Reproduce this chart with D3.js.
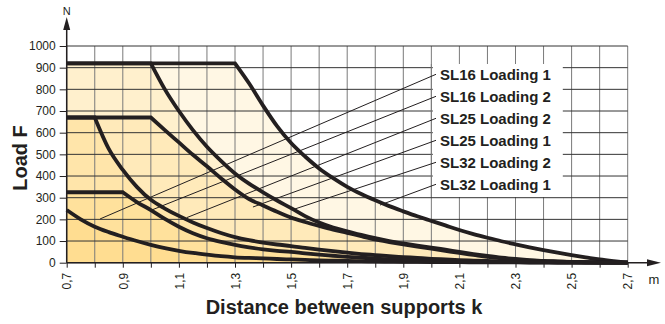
<!DOCTYPE html>
<html>
<head>
<meta charset="utf-8">
<script src="https://cdn.jsdelivr.net/npm/d3@7/dist/d3.min.js"></script>
<style>
  html, body { margin: 0; padding: 0; background: #ffffff; }
  svg { display: block; font-family: "Liberation Sans", Arial, Helvetica, sans-serif; }
</style>
</head>
<body>
<svg id="chart" width="665" height="324"></svg>
<script>
// ---------------- DATA ----------------
// distance between supports k (m), sampled every 0.05 m
const kValues = d3.range(70, 271, 5).map(v => v / 100);

// load F (N) per curve
const sl32Loading1 = [920,920,920,920,920,920,920,920,920,920,920,920,920,
  828,725,630,552,490,435,390,350,317,288,261,237,214,193,172,151,132,115,99,85,71,58,46,35,25,15,7,0];
const sl32Loading2 = [920,920,920,920,920,920,920,
  800,700,612,535,470,412,365,325,287,252,215,185,162,145,128,113,100,89,79,70,60,50,40,31,23,17,12,8,6,4,3,2,1,0];
const sl25Loading1 = [670,670,670,670,670,670,670,
  612,555,498,445,390,338,294,264,235,208,188,170,153,138,122,107,95,84,74,65,55,45,36,27,20,14,10,7,5,3,2,1,0.5,0];
const sl25Loading2 = [670,670,670,
  525,428,350,290,250,216,186,160,137,118,104,93,84,77,68,60,53,46,40,35,30,26,22,18,15,12,10,8,6,5,4,3,2,1.5,1,0.5,0.2,0];
const sl16Loading2 = [325,325,325,325,325,
  280,243,202,166,136,113,96,82,71,62,55,50,43,37,32,27,23,19,16,13,11,9,7,6,5,4,3,2.5,2,1.5,1,1,0.5,0.3,0.1,0];
const sl16Loading1 = [243,200,166,141,120,100,82,67,55,45,37,30,25,22,20,17,15,13,11,9.5,8,7,6,5,4,3.5,3,
  2.5,2.2,2,1.7,1.5,1.2,1,0.8,0.6,0.5,0.3,0.2,0.1,0];

// legend labels and the point each leader line points to
const labelNames = ["SL16 Loading 1","SL16 Loading 2","SL25 Loading 2","SL25 Loading 1","SL32 Loading 2","SL32 Loading 1"];
const anchorK = [0.819, 1.003, 1.128, 1.364, 1.502, 1.817];
const anchorF = [202, 243, 208, 257, 243, 266];

// axis ticks
const kTicks = d3.range(7, 28).map(v => v / 10);
const kLabelTicks = [0.7, 0.9, 1.1, 1.3, 1.5, 1.7, 1.9, 2.1, 2.3, 2.5, 2.7];
const fTicks = d3.range(0, 1001, 100);

const curves = [sl32Loading1, sl32Loading2, sl25Loading1, sl25Loading2, sl16Loading2, sl16Loading1];

// ---------------- CHART ----------------
const svg = d3.select("#chart");
const ink = "#231f20";

const x = d3.scaleLinear().domain([0.7, 2.7]).range([66.7, 627.7]);
const y = d3.scaleLinear().domain([0, 1000]).range([262.7, 46]);

function curvePath(F) {
  const pts = kValues.map((k, i) => [x(k), y(F[i])]);
  let b = 0;
  while (b + 1 < F.length && F[b + 1] === F[0]) b++;
  const lin = d3.line().curve(d3.curveLinear);
  const mono = d3.line().curve(d3.curveMonotoneX);
  if (b > 0) {
    return lin(pts.slice(0, b + 1)) + mono(pts.slice(b)).replace(/^M/, "L");
  }
  return mono(pts);
}

// fills
const gFill = svg.append("g");
curves.forEach(F => {
  gFill.append("path")
    .attr("d", curvePath(F) + `L${x(2.7)},${y(0)}L${x(0.7)},${y(0)}Z`)
    .attr("fill", "rgb(252,203,90)")
    .attr("fill-opacity", 0.16)
    .attr("stroke", "none");
});

// grid
const gGrid = svg.append("g");
gGrid.selectAll("line.v").data(kTicks).join("line")
  .attr("x1", d => x(d)).attr("x2", d => x(d))
  .attr("y1", y(0)).attr("y2", y(1000))
  .attr("stroke", "#7a7a7a").attr("stroke-width", 1);
gGrid.selectAll("line.h").data(fTicks).join("line")
  .attr("x1", x(0.7)).attr("x2", x(2.7))
  .attr("y1", d => y(d)).attr("y2", d => y(d))
  .attr("stroke", "#333").attr("stroke-width", 1);

// white label box
const boxX = 432.8, boxW = 130, boxY = 64, boxH = 133;
svg.append("rect").attr("x", boxX).attr("y", boxY).attr("width", boxW).attr("height", boxH).attr("fill", "#fff");
svg.append("line").attr("x1", x(2.0)).attr("x2", x(2.0)).attr("y1", boxY).attr("y2", boxY + boxH)
  .attr("stroke", "#7a7a7a").attr("stroke-width", 1);

// leader lines
const labelY0 = 74.3, labelStep = 22;
const gLead = svg.append("g");
labelNames.forEach((name, i) => {
  gLead.append("line")
    .attr("x1", 436).attr("y1", labelY0 + i * labelStep)
    .attr("x2", x(anchorK[i])).attr("y2", y(anchorF[i]))
    .attr("stroke", ink).attr("stroke-width", 1);
});

// curves
const gCurves = svg.append("g");
curves.forEach(F => {
  gCurves.append("path")
    .attr("d", curvePath(F))
    .attr("fill", "none")
    .attr("stroke", ink)
    .attr("stroke-width", 3.8)
    .attr("stroke-linejoin", "miter");
});

// x axis
const fmt = d => d3.format(".1f")(d).replace(".", ",");
const xAxis = svg.append("g").attr("transform", `translate(0,${y(0)})`)
  .call(d3.axisBottom(x).tickValues(kTicks).tickSize(5)
    .tickFormat(d => kLabelTicks.some(t => Math.abs(t - d) < 1e-6) ? fmt(d) : ""));
xAxis.select(".domain").remove();
xAxis.selectAll(".tick line").attr("stroke", ink);
xAxis.selectAll("text")
  .attr("transform", "rotate(-90)")
  .attr("text-anchor", "end")
  .attr("x", -10).attr("y", 0).attr("dy", "0.35em")
  .attr("font-size", 12).attr("fill", ink)
  .attr("font-family", "Liberation Sans, Arial, sans-serif");

// y axis
const yAxis = svg.append("g").attr("transform", `translate(${x(0.7)},0)`)
  .call(d3.axisLeft(y).tickValues(fTicks).tickSize(7).tickPadding(4).tickFormat(d3.format("d")));
yAxis.select(".domain").remove();
yAxis.selectAll(".tick line").attr("stroke", ink);
yAxis.selectAll("text").attr("font-size", 12).attr("fill", ink)
  .attr("font-family", "Liberation Sans, Arial, sans-serif");

// axis lines with arrows
svg.append("line").attr("x1", x(0.7)).attr("x2", 650).attr("y1", y(0)).attr("y2", y(0))
  .attr("stroke", ink).attr("stroke-width", 1.5);
svg.append("path").attr("d", `M661,${y(0)}L647,${y(0) - 3.5}L647,${y(0) + 3.5}Z`).attr("fill", ink);
svg.append("line").attr("x1", x(0.7)).attr("x2", x(0.7)).attr("y1", y(0)).attr("y2", 26)
  .attr("stroke", ink).attr("stroke-width", 1.5);
svg.append("path").attr("d", `M${x(0.7)},17L${x(0.7) - 3.5},30L${x(0.7) + 3.5},30Z`).attr("fill", ink);

// unit labels
svg.append("text").attr("x", x(0.7)).attr("y", 15).attr("text-anchor", "middle")
  .attr("font-size", 11).attr("fill", ink).text("N");
svg.append("text").attr("x", 654).attr("y", 284).attr("text-anchor", "middle")
  .attr("font-size", 13).attr("fill", ink).text("m");

// axis titles
svg.append("text").attr("x", 344).attr("y", 314).attr("text-anchor", "middle")
  .attr("font-size", 20).attr("font-weight", "bold").attr("fill", ink)
  .text("Distance between supports k");
svg.append("text").attr("transform", "translate(27,158) rotate(-90)").attr("text-anchor", "middle")
  .attr("font-size", 20).attr("font-weight", "bold").attr("fill", ink)
  .text("Load F");

// legend labels
labelNames.forEach((name, i) => {
  svg.append("text").attr("x", 440).attr("y", labelY0 + i * labelStep).attr("dy", "0.36em")
    .attr("font-size", 15).attr("font-weight", "bold").attr("fill", ink).text(name);
});
</script>
</body>
</html>
